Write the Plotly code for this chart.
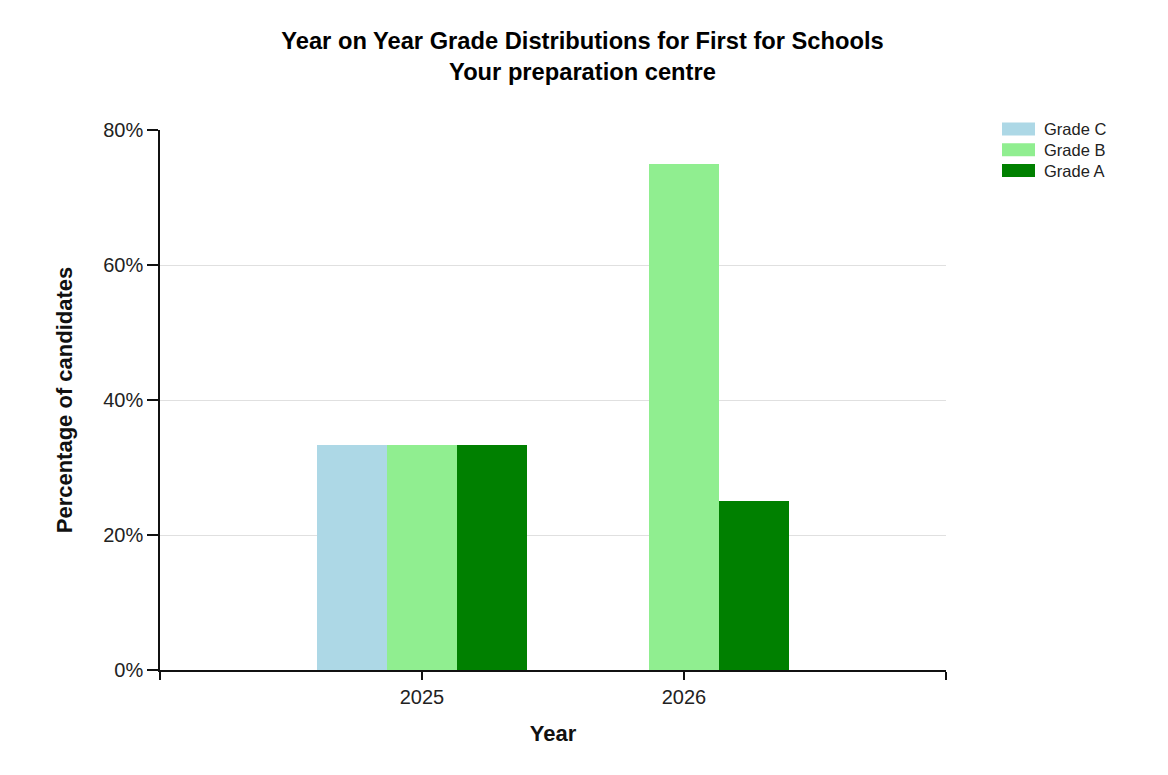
import plotly.graph_objects as go

# data
years = ["2025", "2026"]
grades = ["Grade C", "Grade B", "Grade A"]
grade_c = [33.33, 0]
grade_b = [33.33, 75.0]
grade_a = [33.33, 25.0]
colors = ["#ADD8E6", "#90EE90", "#008000"]
y_ticks = [0, 20, 40, 60, 80]

series = [grade_c, grade_b, grade_a]
bar_w = 0.267

# grouped bars: every grade keeps its slot, the middle one sits on the tick
n = len(grades)
fig = go.Figure()
for g, name in enumerate(grades):
    xs = [i + (g - (n - 1) / 2) * bar_w for i in range(len(years))]
    fig.add_trace(go.Bar(x=xs, y=series[g], width=bar_w, name=name,
                         marker=dict(color=colors[g], line=dict(width=0)),
                         showlegend=False))

# page has an 8px body margin, so plot area at page (160,130) -> figure (152,122)
L, T, W, H = 160, 130, 786, 540
OFF = 8
def px(x):
    return (x - L) / W
def py(y):
    return (T + H - y) / H

# legend drawn as wide swatches like the original
shapes = []
annotations = []
for g, name in enumerate(grades):
    top = 122.5 + g * 20.8
    shapes.append(dict(type="rect", xref="paper", yref="paper",
                       x0=px(1002), x1=px(1035), y0=py(top + 13), y1=py(top),
                       fillcolor=colors[g], line=dict(width=0)))
    annotations.append(dict(xref="paper", yref="paper", x=px(1042), y=py(top + 6.5),
                            text=name, showarrow=False, xanchor="left", yanchor="middle",
                            font=dict(family="Liberation Sans, Arial", size=16.5, color="#222")))

tick_font = dict(family="Liberation Sans, Arial", size=20, color="#222")
label_font = dict(family="Liberation Sans, Arial", size=22, color="#111", weight="bold")

fig.update_layout(
    width=1168, height=775,
    margin=dict(l=L - OFF, r=1168 - (L - OFF) - W, t=T - OFF, b=775 - (T - OFF) - H),
    paper_bgcolor="white", plot_bgcolor="white",
    title=dict(text="Year on Year Grade Distributions for First for Schools<br>Your preparation centre",
               x=(582.5 - L) / W, xref="paper", xanchor="center", y=0.947, yanchor="top",
               font=dict(family="Liberation Sans, Arial", size=23.7, color="#000", weight="bold")),
    bargap=0,
    shapes=shapes,
    annotations=annotations,
)

fig.update_xaxes(range=[-1, 2], tickvals=[-1, 0, 1, 2], ticktext=[""] + years + [""],
                 showline=True, linecolor="#111", linewidth=1.5,
                 ticks="outside", ticklen=8, tickcolor="#111", tickwidth=1.5,
                 showgrid=False, zeroline=False, tickfont=tick_font,
                 title=dict(text="Year", standoff=19, font=label_font))
fig.update_yaxes(range=[0, 80], tickvals=y_ticks, ticktext=[f"{v}%" for v in y_ticks],
                 showline=True, linecolor="#111", linewidth=1.5,
                 ticks="outside", ticklen=11, tickcolor="#111", tickwidth=1.5,
                 showgrid=True, gridcolor="#e0e0e0", gridwidth=1.2, zeroline=False,
                 tickfont=tick_font,
                 title=dict(text="Percentage of candidates", standoff=25, font=label_font))

fig.write_html("out.html")
